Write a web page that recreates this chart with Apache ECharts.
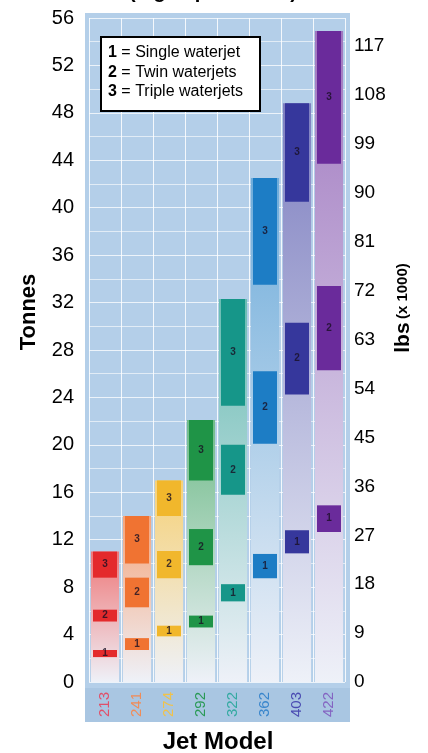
<!DOCTYPE html>
<html>
<head>
<meta charset="utf-8">
<script src="https://cdn.jsdelivr.net/npm/echarts@6/dist/echarts.min.js"></script>
<style>
  html, body { margin: 0; padding: 0; background: #ffffff; }
  #chart { width: 428px; height: 753px; }
</style>
</head>
<body>
<div id="chart"></div>
<script>
// Jet models along the bottom
const models = ['213', '241', '274', '292', '322', '362', '403', '422'];

// Boat displacement ranges in tonnes [low, high] per model
const singleJet = [[2.1, 2.7], [2.7, 3.7], [3.85, 4.75], [4.6, 5.6], [6.8, 8.25], [8.75, 10.8], [10.85, 12.8], [12.65, 14.9]];
const twinJet   = [[5.1, 6.1], [6.3, 8.8], [8.75, 11.05], [9.85, 12.9], [15.8, 20.0], [20.1, 26.2], [24.25, 30.3], [26.3, 33.4]];
const tripleJet = [[8.8, 11.0], [10.0, 14.0], [14.0, 17.0], [17.0, 22.1], [23.3, 32.3], [33.5, 42.5], [40.5, 48.8], [43.7, 54.9]];

// Axis ticks
const tonnesMin = 0, tonnesMax = 56, tonnesStep = 4;
const lbsMin = 0, lbsMax = 122.2, lbsStep = 9;

// Legend lines
const legendLines = [['1', 'Single waterjet'], ['2', 'Twin waterjets'], ['3', 'Triple waterjets']];

// Colours per model
const boxColors   = ['#e42a2c', '#f07332', '#f1b72c', '#1f9447', '#169689', '#1d7dc5', '#36379c', '#6a2b9b'];
const labelColors = ['#e0506a', '#f08c58', '#f0c24a', '#2a9a56', '#34aaa2', '#3a86cc', '#4a4cb2', '#8464c2'];

const FONT = 'Liberation Sans, Arial, sans-serif';

function mix(hex, other, t) {
  const a = parseInt(hex.slice(1), 16), b = parseInt(other.slice(1), 16);
  const ch = (v, s) => (v >> s) & 255;
  const m = s => Math.round(ch(a, s) * (1 - t) + ch(b, s) * t);
  return 'rgb(' + m(16) + ',' + m(8) + ',' + m(0) + ')';
}

// Faded column under each model, up to the top of its triple-jet range
const fadeData = tripleJet.map((r, i) => ({
  value: r[1],
  itemStyle: {
    color: new echarts.graphic.LinearGradient(0, 0, 0, 1, [
      { offset: 0, color: mix(boxColors[i], '#ffffff', 0.36) },
      { offset: 1, color: '#eef1f8' }
    ])
  }
}));

// Solid range boxes: [modelIndex, low, high, jetCount]
const boxData = [];
[singleJet, twinJet, tripleJet].forEach((set, k) => {
  set.forEach((r, i) => boxData.push([i, r[0], r[1], k + 1]));
});

function renderBox(params, api) {
  const i = api.value(0);
  const lo = api.coord([i, api.value(1)]);
  const hi = api.coord([i, api.value(2)]);
  const w = api.size([1, 0])[0] * 0.75;
  return {
    type: 'rect',
    shape: { x: lo[0] - w / 2, y: hi[1], width: w, height: lo[1] - hi[1] },
    style: { fill: boxColors[i] },
    textContent: {
      style: {
        text: String(api.value(3)),
        fill: 'rgba(25,15,35,0.8)',
        font: 'bold 10px ' + FONT
      }
    },
    textConfig: { position: 'inside' }
  };
}

const chart = echarts.init(document.getElementById('chart'), null, { renderer: 'canvas' });

chart.setOption({
  animation: false,
  grid: { left: 89, right: 83, top: 18, bottom: 71, containLabel: false },
  xAxis: {
    type: 'category',
    data: models.map((m, i) => ({ value: m, textStyle: { color: labelColors[i] } })),
    boundaryGap: true,
    axisLine: { show: false },
    axisTick: { show: false },
    axisLabel: { rotate: 90, margin: 10, fontSize: 15, fontFamily: FONT },
    splitLine: { show: true, lineStyle: { color: 'rgba(255,255,255,0.85)', width: 1 } }
  },
  yAxis: [
    {
      type: 'value',
      min: tonnesMin, max: tonnesMax, interval: tonnesStep,
      axisLine: { show: false },
      axisTick: { show: false },
      axisLabel: { color: '#000', fontSize: 20, fontFamily: FONT, margin: 15 },
      splitLine: { show: true, lineStyle: { color: 'rgba(255,255,255,0.75)', width: 1 } },
      minorTick: { show: false, splitNumber: 2 },
      minorSplitLine: { show: true, lineStyle: { color: 'rgba(255,255,255,0.6)', width: 1 } }
    },
    {
      type: 'value',
      position: 'right',
      min: lbsMin, max: lbsMax, interval: lbsStep,
      axisLine: { show: false },
      axisTick: { show: false },
      splitLine: { show: false },
      axisLabel: {
        color: '#000', fontSize: 19, fontFamily: FONT, margin: 9,
        formatter: v => (Math.abs(v / lbsStep - Math.round(v / lbsStep)) < 1e-6 ? String(Math.round(v)) : '')
      }
    }
  ],
  series: [
    {
      name: 'fade',
      type: 'bar',
      data: fadeData,
      barWidth: '88%',
      z: 2
    },
    {
      name: 'ranges',
      type: 'custom',
      renderItem: renderBox,
      data: boxData,
      encode: { x: 0, y: [1, 2] },
      z: 3
    }
  ],
  graphic: [
    // plot panel and model strip
    { type: 'rect', z: -10, shape: { x: 85, y: 13, width: 265, height: 675 }, style: { fill: '#b4cfe9' } },
    { type: 'rect', z: -10, shape: { x: 85, y: 688, width: 265, height: 34 }, style: { fill: '#a9c6e2' } },
    // legend box
    { type: 'rect', z: 100, shape: { x: 101, y: 37, width: 159, height: 74 }, style: { fill: '#ffffff', stroke: '#000000', lineWidth: 2 } }
  ].concat(legendLines.map((l, k) => ({
    type: 'text', z: 101,
    x: 108, y: 53 + k * 19.5,
    style: {
      text: '{b|' + l[0] + '} = ' + l[1],
      font: '16px ' + FONT,
      fill: '#000',
      verticalAlign: 'middle',
      rich: { b: { font: 'bold 16px ' + FONT, fill: '#000' } }
    }
  }))).concat([
    // headline, mostly above the page edge
    {
      type: 'text', x: 213, y: 2,
      style: { text: '(high speed craft)', font: 'bold 20px ' + FONT, fill: '#000', align: 'center', verticalAlign: 'bottom' }
    },
    // axis titles
    {
      type: 'text', x: 29, y: 312, rotation: Math.PI / 2,
      style: { text: 'Tonnes', font: 'bold 22px ' + FONT, fill: '#000', align: 'center', verticalAlign: 'middle' }
    },
    {
      type: 'text', x: 403, y: 308, rotation: Math.PI / 2,
      style: {
        text: '{a|lbs} {b|(x 1000)}',
        fill: '#000', align: 'center', verticalAlign: 'middle',
        rich: { a: { font: 'bold 21px ' + FONT, fill: '#000' }, b: { font: 'bold 15px ' + FONT, fill: '#000' } }
      }
    },
    {
      type: 'text', x: 218, y: 742,
      style: { text: 'Jet Model', font: 'bold 24px ' + FONT, fill: '#000', align: 'center', verticalAlign: 'middle' }
    }
  ])
});
</script>
</body>
</html>
